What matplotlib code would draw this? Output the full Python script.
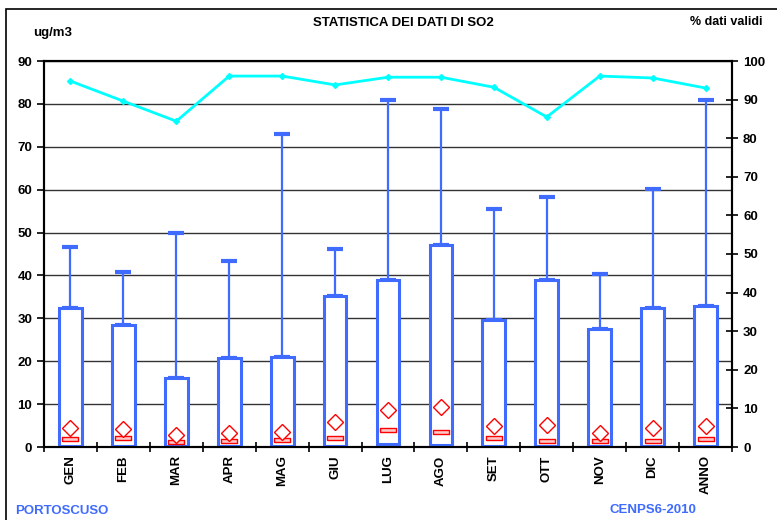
import numpy as np
import matplotlib.pyplot as plt
from matplotlib.patches import Rectangle

plt.rcParams['font.family'] = ['Liberation Sans', 'DejaVu Sans']
plt.rcParams['font.weight'] = 'bold'

# Data
months = ["GEN", "FEB", "MAR", "APR", "MAG", "GIU", "LUG", "AGO", "SET", "OTT", "NOV", "DIC", "ANNO"]
box_low = [0.2, 0.2, 0.2, 0.2, 0.2, 0.3, 0.6, 0.5, 0.3, 0.2, 0.2, 0.2, 0.3]
box_high = [32.3, 28.5, 16.0, 20.8, 21.0, 35.3, 39.0, 47.1, 29.6, 39.0, 27.5, 32.5, 32.8]
max_vals = [46.6, 40.9, 50.0, 43.3, 73.0, 46.1, 81.0, 78.8, 55.6, 58.2, 40.4, 60.2, 81.0]
medians = [1.9, 2.0, 1.2, 1.3, 1.7, 2.1, 4.0, 3.6, 2.1, 1.5, 1.4, 1.5, 1.8]
means = [4.4, 4.1, 2.8, 3.2, 3.4, 5.8, 8.6, 9.4, 5.0, 5.1, 3.2, 4.4, 4.9]
valid_pct = [94.8, 89.6, 84.4, 96.1, 96.1, 93.8, 95.8, 95.8, 93.2, 85.5, 96.1, 95.6, 93.0]

blue = "#3f6bff"
x = np.arange(len(months))

fig = plt.figure(figsize=(7.77, 5.20), dpi=100)
ax = fig.add_axes([44/777, 73/520, 688/777, 386/520])

# grid
ax.set_axisbelow(True)
ax.yaxis.grid(True, color="#333333", lw=1.0)

# whiskers
upper = np.array(max_vals) - np.array(box_high)
ax.errorbar(x, box_high, yerr=[np.zeros(len(x)), upper], fmt='none',
            ecolor=blue, elinewidth=1.6, capsize=6, capthick=3, zorder=2)

# boxes
heights = np.array(box_high) - np.array(box_low)
ax.bar(x, heights, bottom=box_low, width=0.43, facecolor="white",
       edgecolor=blue, lw=2.2, zorder=3)

# median (flat rectangle) and mean (diamond)
rect_marker = [(-4, -1), (4, -1), (4, 1), (-4, 1), (-4, -1)]
ax.plot(x, medians, ls='none', marker=rect_marker, ms=12, mfc="#ffc8c8",
        mec="red", mew=1.0, zorder=4)
ax.plot(x, means, ls='none', marker='D', ms=8, mfc="white",
        mec="red", mew=1.0, zorder=4)

ax.set_xlim(-0.5, len(months) - 0.5)
ax.set_ylim(0, 90)
ax.set_yticks(np.arange(0, 91, 10))
ax.set_xticks(x)
ax.set_xticklabels(months, rotation=90, fontsize=9.5, fontweight='bold')
ax.set_xticks(np.arange(-0.5, len(months), 1), minor=True)
ax.tick_params(axis='x', which='major', length=0, pad=6)
ax.tick_params(axis='x', which='minor', direction='inout', length=7, width=1.2)
ax.tick_params(axis='y', direction='out', length=5, width=1.2, labelsize=9.5)
for lab in ax.get_yticklabels():
    lab.set_fontweight('bold')
for s in ax.spines.values():
    s.set_linewidth(1.5)

# percentage of valid data on the right axis
ax2 = ax.twinx()
ax2.plot(x, valid_pct, color="#00ffff", lw=2, marker='D', ms=3, zorder=5)
ax2.set_ylim(0, 100)
ax2.set_yticks(np.arange(0, 101, 10))
ax2.tick_params(axis='y', direction='inout', length=9, width=1.2, labelsize=9.5)
for lab in ax2.get_yticklabels():
    lab.set_fontweight('bold')
for s in ax2.spines.values():
    s.set_linewidth(1.5)

# texts
fig.text(403/777, 1 - 23/520, "STATISTICA DEI DATI DI SO2", ha='center', va='center', fontsize=9.5, fontweight='bold')
fig.text(33/777, 1 - 33/520, "ug/m3", ha='left', va='center', fontsize=9.5, fontweight='bold')
fig.text(762/777, 1 - 22/520, "% dati validi", ha='right', va='center', fontsize=9, fontweight='bold')
fig.text(15/777, 1 - 511/520, "PORTOSCUSO", ha='left', va='center', fontsize=9.5, fontweight='bold', color=blue)
fig.text(653/777, 1 - 510/520, "CENPS6-2010", ha='center', va='center', fontsize=9.5, fontweight='bold', color=blue)

# outer frame
fig.patches.append(Rectangle((6/777, -0.05), 1.1, 1 - 9/520 + 0.05, transform=fig.transFigure,
                             fill=False, edgecolor="black", lw=1.2))

fig.savefig("out.png", dpi=100)
